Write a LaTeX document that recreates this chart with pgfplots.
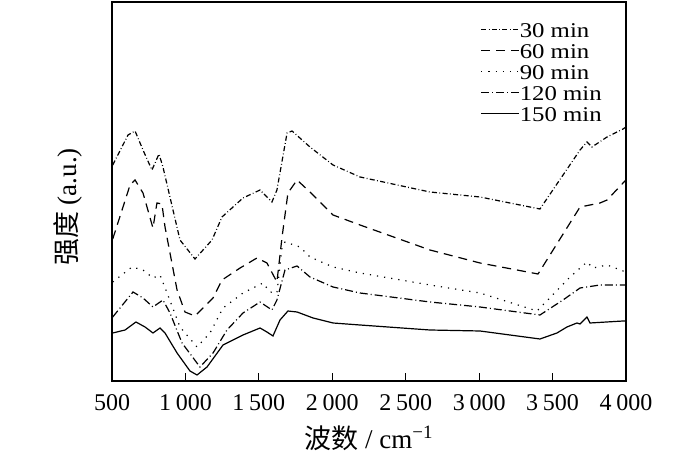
\documentclass[border=0pt]{standalone}
\usepackage{fontspec}
\setmainfont{Liberation Serif}
\newfontfamily\cjk{Noto Sans CJK SC}
\usepackage{pgfplots}
\pgfplotsset{compat=1.18}
\newcommand{\tl}[1]{\mbox{#1}}
\begin{document}
\begin{tikzpicture}
\path[use as bounding box] (-56pt,-38.5pt) rectangle (294pt,190.5pt);
\begin{axis}[
  scale only axis, width=257pt, height=189.5pt,
  at={(0,0)}, anchor=south west,
  xmin=500, xmax=4000, ymin=1, ymax=380,
  axis line style={line width=0.6pt},
  xtick={500,1000,1500,2000,2500,3000,3500,4000},
  xticklabels={\tl{500},\tl{1\hspace{0.2em}000},\tl{1\hspace{0.2em}500},\tl{2\hspace{0.2em}000},\tl{2\hspace{0.2em}500},\tl{3\hspace{0.2em}000},\tl{3\hspace{0.2em}500},\tl{4\hspace{0.2em}000}},
  xtick pos=bottom, tick align=inside, major tick length=4pt,
  tick style={line width=0.6pt, black},
  ytick=\empty,
  xticklabel style={font=\fontsize{12}{12}\selectfont, yshift=-3pt},
  xlabel={{\cjk 波数} / cm\textsuperscript{−1}},
  ylabel={{\cjk 强度} (a.u.)},
  xlabel style={font=\fontsize{13.5}{14}\selectfont, at={(axis description cs:0.5,-0.1515)}, anchor=center},
  ylabel style={font=\fontsize{13.5}{14}\selectfont, at={(axis description cs:-0.0856,0.459)}, anchor=center},
  legend cell align=left,
  legend image code/.code={\draw[#1] (0pt,0pt) -- (19pt,0pt);},
  legend style={at={(axis cs:3837,360)}, anchor=north east, draw=none, fill=none, inner sep=0pt,
    nodes={inner sep=0pt, text height=7.5pt, text depth=0pt, font=\fontsize{10.5}{10.5}\selectfont},
    row sep=3pt},
  every axis plot/.append style={line width=0.6pt, black},
]
% 30 min
\addplot[dash pattern=on 2.5pt off 1.2pt on 0.4pt off 1.2pt] coordinates {
(505,217) (609,247) (657,251) (711,232) (772,212) (820,228) (847,215) (963,142) (1065,123)
(1181,142) (1249,165) (1392,184) (1508,192) (1589,180) (1623,192) (1692,249) (1726,251)
(1848,235) (2005,217) (2189,205) (2665,190) (3006,185) (3414,173) (3687,232) (3734,240)
(3768,235) (3871,245) (3980,253) (4000,255)};
\addlegendentry{\scalebox{1.18}[1]{30 min}}
% 60 min
\addplot[dash pattern=on 4.5pt off 3pt] coordinates {
(505,143) (623,197) (657,202) (711,189) (779,154) (806,179) (840,178) (861,155) (943,92)
(997,70) (1065,66) (1188,84) (1249,102) (1372,114) (1487,124) (1555,119) (1623,100)
(1658,145) (1698,189) (1760,202) (1848,190) (2005,167) (2189,157) (2665,132) (3006,119)
(3401,108) (3687,175) (3823,179) (3871,182) (3980,199) (4000,202)};
\addlegendentry{\scalebox{1.18}[1]{60 min}}
% 90 min
\addplot[dash pattern=on 0.6pt off 3pt] coordinates {
(505,100) (636,115) (711,112) (779,104) (827,107) (875,89) (963,55) (1079,35) (1167,49)
(1256,74) (1392,89) (1528,99) (1576,90) (1623,89) (1658,135) (1678,140) (1780,135)
(1848,125) (2005,115) (2189,109) (2665,97) (3006,89) (3394,71) (3619,105) (3734,120)
(3775,114) (3871,117) (3980,111) (4000,111)};
\addlegendentry{\scalebox{1.18}[1]{90 min}}
% 120 min
\addplot[dash pattern=on 4pt off 1.5pt on 0.5pt off 1.5pt] coordinates {
(505,65) (643,90) (711,84) (779,75) (847,82) (895,69) (977,39) (1099,15) (1188,29)
(1283,52) (1392,69) (1508,80) (1589,72) (1623,82) (1678,112) (1760,116) (1848,105)
(2005,95) (2189,89) (2665,80) (3006,75) (3414,67) (3571,82) (3687,94) (3823,97)
(3980,97) (4000,97)};
\addlegendentry{\scalebox{1.18}[1]{120 min}}
% 150 min
\addplot[solid] coordinates {
(505,49) (589,52) (663,60) (725,55) (779,49) (827,54) (861,49) (943,29) (1031,11)
(1079,7) (1147,15) (1256,37) (1392,47) (1508,54) (1555,50) (1596,46) (1644,62)
(1698,71) (1760,70) (1869,64) (2005,59) (2189,57) (2665,52) (3006,51) (3414,43)
(3530,49) (3598,55) (3666,59) (3687,58) (3734,65) (3755,59) (3980,61) (4000,61)};
\addlegendentry{\scalebox{1.18}[1]{150 min}}
\end{axis}
\end{tikzpicture}
\end{document}
